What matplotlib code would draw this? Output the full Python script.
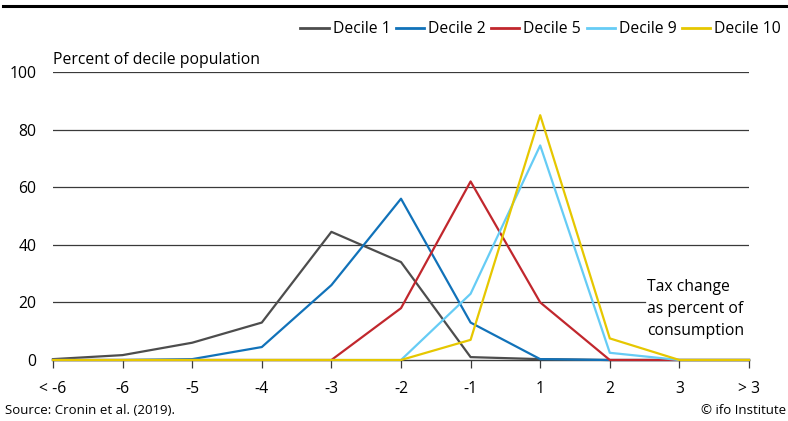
import matplotlib
matplotlib.use("Agg")
import matplotlib.pyplot as plt
import numpy as np

plt.rcParams['font.family'] = ['Open Sans', 'DejaVu Sans']

# ----------------------------
# Data
# ----------------------------
categories = ["< -6", "-6", "-5", "-4", "-3", "-2", "-1", "1", "2", "3", "> 3"]
decile_1 = [0.3, 1.7, 6, 13, 44.5, 34, 1, 0.3, 0, 0, 0]
decile_2 = [0, 0, 0.3, 4.5, 26, 56, 13, 0.3, 0, 0, 0]
decile_5 = [0, 0, 0, 0, 0, 18, 62, 20, 0, 0, 0]
decile_9 = [0, 0, 0, 0, 0, 0, 23, 74.5, 2.5, 0, 0]
decile_10 = [0, 0, 0, 0, 0, 0, 7, 85, 7.5, 0, 0]

series = [
    ("Decile 1", decile_1, "#4d4d4d"),
    ("Decile 2", decile_2, "#1172b9"),
    ("Decile 5", decile_5, "#c1272d"),
    ("Decile 9", decile_9, "#66ccf5"),
    ("Decile 10", decile_10, "#e6c700"),
]

# ----------------------------
# Figure
# ----------------------------
fig = plt.figure(figsize=(7.88, 4.21), dpi=100)
ax = fig.add_axes([53 / 788, 1 - 360 / 421, (749 - 53) / 788, (360 - 72) / 421])

x = np.arange(len(categories))

# gridlines
for yv in [20, 40, 60, 80, 100]:
    xmax = 0.85 if yv == 20 else 1.0
    ax.axhline(yv, xmin=0, xmax=xmax, color="#3a3a3a", lw=0.9, zorder=1)

for name, vals, col in series:
    ax.plot(x, vals, color=col, lw=1.6, label=name, clip_on=False, zorder=3)

ax.set_xlim(0, len(categories) - 1)
ax.set_ylim(0, 100)
ax.set_xticks(x)
ax.set_xticklabels(categories, fontsize=11.3)
ax.set_yticks([0, 20, 40, 60, 80, 100])
ax.tick_params(axis="y", length=0, pad=12, labelsize=11.3)
ax.tick_params(axis="x", length=6, width=0.9, color="#3a3a3a", pad=9)

for s in ["top", "right", "left"]:
    ax.spines[s].set_visible(False)
ax.spines["bottom"].set_color("#3a3a3a")
ax.spines["bottom"].set_linewidth(1.0)
ax.spines["bottom"].set_zorder(2)

leg = ax.legend(loc="center right",
                bbox_to_anchor=((781 - 53) / 696, (360 - 29) / 288),
                ncol=5, frameon=False, fontsize=11.3, handlelength=1.8,
                handletextpad=0.25, columnspacing=0.35, borderaxespad=0,
                borderpad=0)
for line in leg.get_lines():
    line.set_linewidth(2)

fig.text(53 / 788, 1 - 60 / 421, "Percent of decile population", fontsize=11.3,
         va="center", ha="left")
fig.text(647 / 788, 1 - 279 / 421, "Tax change\nas percent of\nconsumption",
         fontsize=11.3, va="top", ha="left", linespacing=1.5)

fig.text(5 / 788, 1 - 411 / 421, "Source: Cronin et al. (2019).", fontsize=9.5,
         va="center", ha="left")
fig.text(786 / 788, 1 - 411 / 421, "© ifo Institute", fontsize=9.5,
         va="center", ha="right")

# top rule
fig.add_artist(plt.Line2D([3 / 788, 1], [1 - 6 / 421, 1 - 6 / 421],
                          color="black", lw=2.2, transform=fig.transFigure))

plt.savefig("out.png", dpi=100)
